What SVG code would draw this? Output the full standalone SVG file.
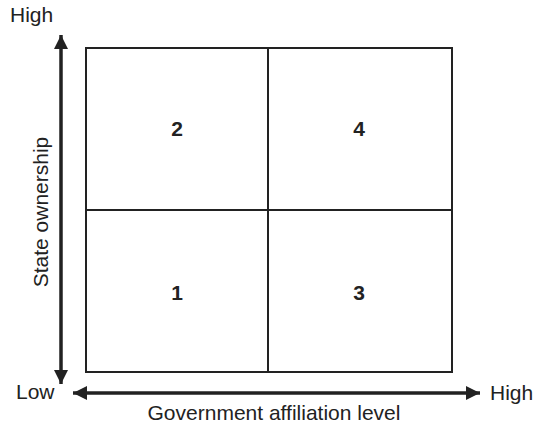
<svg xmlns="http://www.w3.org/2000/svg" width="534" height="427" viewBox="0 0 534 427">
<style>
text{font-family:"Liberation Sans",Arial,sans-serif;fill:#222;font-size:21px}
.num{font-weight:bold;text-anchor:middle;font-size:21px}
.box{fill:none;stroke:#222;stroke-width:2}
.ax{stroke:#222;stroke-width:3.5;fill:none}
</style>
<defs>
<marker id="ah" viewBox="0 0 10 10" refX="10" refY="5" markerWidth="4.5" markerHeight="4" orient="auto-start-reverse" markerUnits="strokeWidth">
<path d="M0,0 L10,5 L0,10 z" fill="#222"/>
</marker>
</defs>
<g id="grid">
<rect class="box" x="86" y="48" width="366" height="324"/>
<line class="box" x1="268" y1="48" x2="268" y2="372"/>
<line class="box" x1="86" y1="210" x2="452" y2="210"/>
</g>
<g id="connectors">
<line class="ax" x1="61" y1="35" x2="61" y2="384" marker-start="url(#ah)" marker-end="url(#ah)"/>
<line class="ax" x1="73" y1="393" x2="480" y2="393" marker-start="url(#ah)" marker-end="url(#ah)"/>
</g>
<g id="q2"><text class="num" x="177" y="136">2</text></g>
<g id="q4"><text class="num" x="359" y="136">4</text></g>
<g id="q1"><text class="num" x="177" y="300">1</text></g>
<g id="q3"><text class="num" x="359" y="300">3</text></g>
<g id="labels">
<text x="10" y="22">High</text>
<text x="16" y="399">Low</text>
<text x="490" y="400">High</text>
<text x="274" y="420" text-anchor="middle">Government affiliation level</text>
<text transform="translate(48,212) rotate(-90)" text-anchor="middle">State ownership</text>
</g>
</svg>
